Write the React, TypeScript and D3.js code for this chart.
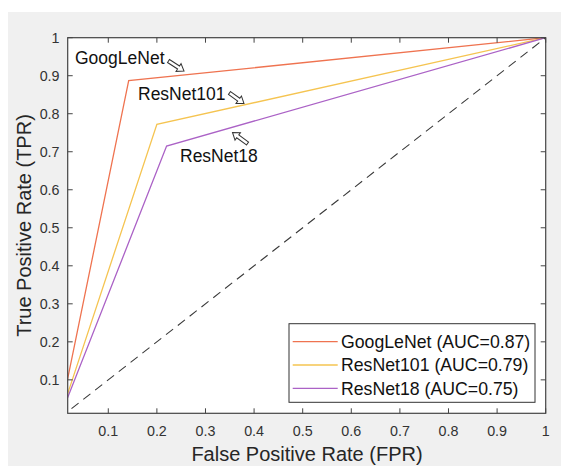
import * as d3 from "d3";

// ROC points (FPR, TPR) for each model
const models = ["GoogLeNet", "ResNet101", "ResNet18"];
const aucs = [0.87, 0.79, 0.75];
const googFPR = [0, 0.142, 1];
const googTPR = [0, 0.887, 1];
const res101FPR = [0, 0.2, 1];
const res101TPR = [0, 0.772, 1];
const res18FPR = [0, 0.22, 1];
const res18TPR = [0, 0.715, 1];
const chanceFPR = [0, 1];
const chanceTPR = [0, 1];
const xTicks = [0.1, 0.2, 0.3, 0.4, 0.5, 0.6, 0.7, 0.8, 0.9, 1];
const yTicks = [0.1, 0.2, 0.3, 0.4, 0.5, 0.6, 0.7, 0.8, 0.9, 1];

const colors = ["#ef7350", "#f5c451", "#ab62c6"];
const font = "'Liberation Sans', Arial, sans-serif";

const width = 561;
const height = 466;
const left = 67.7;
const right = 545.7;
const top = 37.7;
const bottom = 413.3;

// hollow block arrow from (x1,y1) to (x2,y2)
function Arrow({ x1, y1, x2, y2 }: { x1: number; y1: number; x2: number; y2: number }) {
  const len = Math.hypot(x2 - x1, y2 - y1);
  const ang = (Math.atan2(y2 - y1, x2 - x1) * 180) / Math.PI;
  const hl = 6.5, sw = 1.8, hw = 4.6;
  const pts = [
    [0, -sw], [len - hl, -sw], [len - hl, -hw], [len, 0],
    [len - hl, hw], [len - hl, sw], [0, sw],
  ].map((p) => p.join(",")).join(" ");
  return (
    <polygon
      points={pts}
      transform={`translate(${x1},${y1}) rotate(${ang})`}
      fill="#fff"
      stroke="#333"
      strokeWidth={1}
      strokeLinejoin="miter"
    />
  );
}

export default function App() {
  const x = d3.scaleLinear([0.0165, 1], [left, right]);
  const y = d3.scaleLinear([0.012, 1], [bottom, top]);

  const line = d3
    .line<[number, number]>()
    .x((d) => x(d[0]))
    .y((d) => y(d[1]));

  const series = [
    d3.zip(googFPR, googTPR),
    d3.zip(res101FPR, res101TPR),
    d3.zip(res18FPR, res18TPR),
  ] as [number, number][][];
  const chance = d3.zip(chanceFPR, chanceTPR) as [number, number][];

  const fmt = (v: number) => String(+v.toFixed(1));
  const axisColor = "#444";
  const tickLen = 5;

  const legX = 289, legY = 323.7, legW = 246, legH = 78.6;
  const rowY = [341.7, 365, 388.3];

  return (
    <svg
      width={width}
      height={height}
      style={{ position: "absolute", left: 0, top: 0 }}
      fontFamily={font}
    >
      <rect x={8} y={12} width={width - 8} height={height - 12} fill="#f0f0f0" />
      <defs>
        <clipPath id="plot">
          <rect x={left} y={top} width={right - left} height={bottom - top} />
        </clipPath>
      </defs>
      <rect x={left} y={top} width={right - left} height={bottom - top} fill="#fff" />

      <g clipPath="url(#plot)">
        {series.map((s, i) => (
          <path key={i} d={line(s) ?? ""} fill="none" stroke={colors[i]} strokeWidth={1.3} />
        ))}
        <path
          d={line(chance) ?? ""}
          fill="none"
          stroke="#3a3a3a"
          strokeWidth={1.1}
          strokeDasharray="9,6"
        />
      </g>

      {/* box and ticks */}
      <rect
        x={left}
        y={top}
        width={right - left}
        height={bottom - top}
        fill="none"
        stroke={axisColor}
        strokeWidth={1.2}
      />
      <g stroke={axisColor} strokeWidth={1}>
        {xTicks.map((t) => (
          <g key={t}>
            <line x1={x(t)} x2={x(t)} y1={bottom} y2={bottom - tickLen} />
            <line x1={x(t)} x2={x(t)} y1={top} y2={top + tickLen} />
          </g>
        ))}
        {yTicks.map((t) => (
          <g key={t}>
            <line x1={left} x2={left + tickLen} y1={y(t)} y2={y(t)} />
            <line x1={right} x2={right - tickLen} y1={y(t)} y2={y(t)} />
          </g>
        ))}
      </g>

      <g fontSize={14.3} fill="#333">
        {xTicks.map((t) => (
          <text key={t} x={x(t)} y={435.7} textAnchor="middle">
            {fmt(t)}
          </text>
        ))}
        {yTicks.map((t) => (
          <text key={t} x={59.5} y={y(t)} dy="0.35em" textAnchor="end">
            {fmt(t)}
          </text>
        ))}
      </g>

      <text x={307} y={460.7} textAnchor="middle" fontSize={20} fill="#262626">
        False Positive Rate (FPR)
      </text>
      <text
        transform={`translate(31,${(top + bottom) / 2}) rotate(-90)`}
        textAnchor="middle"
        fontSize={20}
        fill="#262626"
      >
        True Positive Rate (TPR)
      </text>

      {/* annotations */}
      <g fontSize={17.5} fill="#111">
        <text x={75} y={64}>GoogLeNet</text>
        <text x={138} y={100}>ResNet101</text>
        <text x={180} y={161.7}>ResNet18</text>
      </g>
      <Arrow x1={168.5} y1={61} x2={184} y2={71} />
      <Arrow x1={229.5} y1={93} x2={244} y2={103.5} />
      <Arrow x1={247.5} y1={143.5} x2={232.5} y2={132.5} />

      {/* legend */}
      <rect x={legX} y={legY} width={legW} height={legH} fill="#fff" stroke="#333" strokeWidth={1} />
      {models.map((m, i) => (
        <g key={m}>
          <line x1={292.7} x2={337.7} y1={rowY[i]} y2={rowY[i]} stroke={colors[i]} strokeWidth={1.3} />
          <text x={341} y={rowY[i]} dy="0.36em" fontSize={17.7} fill="#111">
            {`${m} (AUC=${aucs[i].toFixed(2)})`}
          </text>
        </g>
      ))}
    </svg>
  );
}
